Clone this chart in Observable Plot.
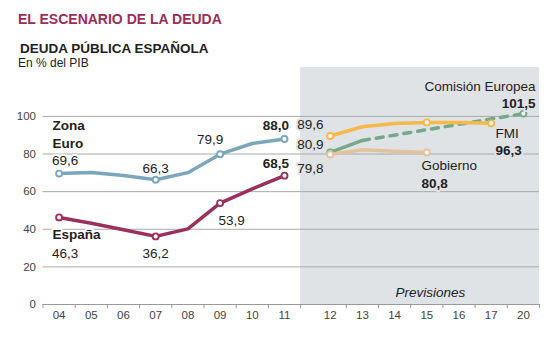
<!DOCTYPE html>
<html><head><meta charset="utf-8">
<script src="https://cdn.jsdelivr.net/npm/d3@7"></script>
<script src="https://cdn.jsdelivr.net/npm/@observablehq/plot@0.6"></script>
<style>
body{margin:0;background:#fff;font-family:"Liberation Sans",Arial,sans-serif;}
#head{position:relative;height:60px;width:560px;}
#head div{position:absolute;left:18px;line-height:1;white-space:nowrap;}
</style></head><body>
<div id="head">
<div style="top:12px;font-size:14px;font-weight:bold;color:#9b2d5a">EL ESCENARIO DE LA DEUDA</div>
<div style="top:42px;left:20px;font-size:13.5px;font-weight:bold;color:#222">DEUDA PÚBLICA ESPAÑOLA</div>
<div style="top:57px;font-size:12px;color:#222">En % del PIB</div>
</div>
<div id="chart"></div>
<script>
// ---- data ----
const years = ["04","05","06","07","08","09","10","11","12","13","14","15","16","17","20"];
const histYears = ["04","05","06","07","08","09","10","11"];
const zonaEuro = [69.6, 70.2, 68.6, 66.3, 70.1, 79.9, 85.6, 88.0];
const espana   = [46.3, 43.2, 39.7, 36.2, 40.2, 53.9, 61.5, 68.5];
const histMarked = ["04","07","09","11"];
const fmiYears = ["12","13","14","15","16","17"];
const fmi      = [89.6, 94.5, 96.2, 96.8, 96.7, 96.3];
const fmiMarked = ["12","15","17"];
const ceSolidYears = ["12","13"];
const ceDashYears  = ["13","20"];
const ceValues = {"12": 80.9, "13": 87.2, "20": 101.5};
const ceMarked = ["12","20"];
const gobYears = ["12","13","14","15"];
const gob      = [79.8, 82.3, 81.5, 80.8];
const gobMarked = ["12","15"];
const yTicks = [0, 20, 40, 60, 80, 100];

// ---- scale helpers ----
const firstForecast = years.indexOf("12");
const slot = y => { const i = years.indexOf(y); return i >= firstForecast ? i + 0.42 : i; };
const shadeStart = slot("11") + 0.5;
const shadeEnd = slot("20") + 0.5;
const boundaries = years.map(y => years.indexOf(y) < firstForecast ? slot(y) - 0.5 : slot(y) + 0.5).concat([shadeStart]);
const labelTicks = years.map(slot);
const fmt = v => v.toFixed(1).replace(".", ",");

const rows = (ys, vs) => ys.map((y, i) => ({year: y, v: vs[i]}));
const euroRows = rows(histYears, zonaEuro);
const espRows = rows(histYears, espana);
const fmiRows = rows(fmiYears, fmi);
const ceSolid = ceSolidYears.map(y => ({year: y, v: ceValues[y]}));
const ceDash = ceDashYears.map(y => ({year: y, v: ceValues[y]}));
const ceRows = Object.keys(ceValues).map(y => ({year: y, v: ceValues[y]}));
const gobRows = rows(gobYears, gob);

const C = {euro: "#7aa7bd", esp: "#9b2f5e", fmi: "#f6b94a", ce: "#76a88a", gob: "#e2c39e", shade: "#dfe3e6"};
const X = d => slot(d.year);
const pick = (rs, y) => rs.filter(d => d.year === y);
const lab = (rs, y, opts) => Plot.text(pick(rs, y), {
  x: X, y: "v", text: d => fmt(d.v), fill: "#222", fontSize: 13.5,
  paintOrder: "stroke", strokeWidth: 4, ...opts
});
const dots = (rs, marked, color) => Plot.dot(rs.filter(d => marked.includes(d.year)),
  {x: X, y: "v", r: 3, fill: "white", stroke: color, strokeWidth: 1.9});

const chart = Plot.plot({
  width: 560, height: 280,
  marginTop: 7, marginBottom: 36, marginLeft: 42.5, marginRight: 21,
  style: {fontFamily: "Liberation Sans, Arial, sans-serif", fontSize: "11.5px", background: "transparent", color: "#444"},
  x: {type: "linear", domain: [-0.5, shadeEnd], label: null},
  y: {domain: [0, 126], label: null},
  marks: [
    Plot.rect([0], {x1: shadeStart, x2: shadeEnd, y1: 0, y2: 126, fill: C.shade}),
    Plot.ruleY(yTicks.filter(d => d > 0), {stroke: "#a9a9a9", strokeWidth: 1}),
    Plot.ruleY([0], {stroke: "#9a9a9a"}),
    Plot.axisY(yTicks, {tickSize: 0, tickPadding: 7, fill: "#444", label: null}),
    Plot.axisX(boundaries, {tickSize: 4, tickFormat: () => "", stroke: "#9a9a9a", label: null}),
    Plot.axisX(labelTicks, {tickSize: 0, tickPadding: 6, fill: "#444", label: null, tickFormat: d => years[labelTicks.indexOf(d)]}),
    // historic lines
    Plot.line(euroRows, {x: X, y: "v", stroke: C.euro, strokeWidth: 3.5}),
    Plot.line(espRows, {x: X, y: "v", stroke: C.esp, strokeWidth: 3.5}),
    dots(euroRows, histMarked, C.euro),
    dots(espRows, histMarked, C.esp),
    // forecasts
    Plot.line(ceSolid, {x: X, y: "v", stroke: C.ce, strokeWidth: 3.5}),
    Plot.line(ceDash, {x: X, y: "v", stroke: C.ce, strokeWidth: 3.5, strokeDasharray: "7,7"}),
    dots(ceRows, ceMarked, C.ce),
    Plot.line(gobRows, {x: X, y: "v", stroke: C.gob, strokeWidth: 3.5}),
    dots(gobRows, gobMarked, C.gob),
    Plot.line(fmiRows, {x: X, y: "v", stroke: C.fmi, strokeWidth: 3.5}),
    dots(fmiRows, fmiMarked, C.fmi),
    // labels: historic
    lab(euroRows, "04", {text: () => "Zona", fontWeight: "bold", textAnchor: "start", dx: -6.6, dy: -48, stroke: "white"}),
    lab(euroRows, "04", {text: () => "Euro", fontWeight: "bold", textAnchor: "start", dx: -6.6, dy: -30.4, stroke: "white"}),
    lab(euroRows, "04", {textAnchor: "start", dx: -7, dy: -13, stroke: "white"}),
    lab(euroRows, "07", {dx: 0, dy: -11.6, stroke: "white"}),
    lab(euroRows, "09", {dx: -10, dy: -14.7, stroke: "white"}),
    lab(euroRows, "11", {fontWeight: "bold", dx: -8.5, dy: -13.5, stroke: "white"}),
    lab(espRows, "04", {text: () => "España", fontWeight: "bold", textAnchor: "start", dx: -6.6, dy: 17, stroke: "white"}),
    lab(espRows, "04", {textAnchor: "start", dx: -7, dy: 35.8, stroke: "white"}),
    lab(espRows, "07", {dx: 0, dy: 16.8, stroke: "white"}),
    lab(espRows, "09", {textAnchor: "start", dx: -1.6, dy: 17.4, stroke: "white"}),
    lab(espRows, "11", {fontWeight: "bold", dx: -8.5, dy: -12.2, stroke: "white"}),
    // labels: forecasts
    lab(fmiRows, "12", {textAnchor: "end", dx: -6.7, dy: -11.2, stroke: C.shade}),
    lab(ceRows, "12", {textAnchor: "end", dx: -6.7, dy: -7.5, stroke: C.shade}),
    lab(gobRows, "12", {textAnchor: "end", dx: -6.7, dy: 13.8, stroke: C.shade}),
    lab(ceRows, "20", {text: () => "Comisión Europea", textAnchor: "end", dx: 12.1, dy: -27, stroke: C.shade}),
    lab(ceRows, "20", {fontWeight: "bold", textAnchor: "end", dx: 12.1, dy: -9.8, stroke: C.shade}),
    lab(fmiRows, "17", {text: () => "FMI", textAnchor: "start", dx: 4.3, dy: 10.4, stroke: C.shade}),
    lab(fmiRows, "17", {fontWeight: "bold", textAnchor: "start", dx: 4.3, dy: 27, stroke: C.shade}),
    lab(gobRows, "15", {text: () => "Gobierno", textAnchor: "start", dx: -5.3, dy: 13.5, stroke: C.shade}),
    lab(gobRows, "15", {fontWeight: "bold", textAnchor: "start", dx: -5.3, dy: 31.3, stroke: C.shade}),
    Plot.text(["Previsiones"], {x: (shadeStart + shadeEnd) / 2, y: 0, text: d => d, dx: 10.4, dy: -12.3,
      fontSize: 13.5, fontStyle: "italic", fill: "#222"})
  ]
});
document.getElementById("chart").appendChild(chart);
</script>
</body></html>
